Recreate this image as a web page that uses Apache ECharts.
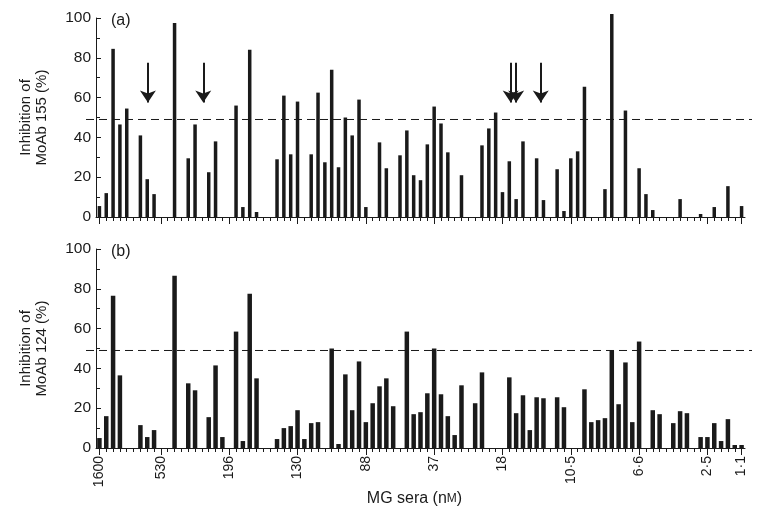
<!DOCTYPE html>
<html lang="en">
<head>
<meta charset="UTF-8">
<title>Inhibition of MoAb binding by MG sera</title>
<script src="https://cdn.jsdelivr.net/npm/echarts@6/dist/echarts.min.js"></script>
<style>
  html, body { margin: 0; padding: 0; background: #fff; }
  #chart { width: 780px; height: 521px; }
</style>
</head>
<body>
<div id="chart"></div>
<script>
// sera are ordered by concentration; one slot per serum
var slotCount = 95;

// panel (a): MoAb 155
var aSlots = [0, 1, 2, 3, 4, 6, 7, 8, 11, 13, 14, 16, 17, 20, 21, 22, 23, 26, 27, 28, 29, 31, 32, 33, 34, 35, 36, 37, 38, 39,
  41, 42, 44, 45, 46, 47, 48, 49, 50, 51, 53, 56, 57, 58, 59, 60, 61, 62, 64, 65, 67, 68, 69, 70, 71, 74, 75, 77, 79, 80,
  81, 85, 88, 90, 92, 94];
var aValues = [5.5, 12, 84.5, 46.5, 54.5, 41, 19, 11.5, 97.5, 29.5, 46.5, 22.5, 38, 56, 5, 84, 2.5, 29, 61, 31.5, 58, 31.5, 62.5, 27.5, 74, 25, 50, 41, 59, 5,
  37.5, 24.5, 31, 43.5, 21, 18.5, 36.5, 55.5, 47, 32.5, 21, 36, 44.5, 52.5, 12.5, 28, 9, 38, 29.5, 8.5, 24, 3, 29.5, 33, 65.5, 14, 102, 53.5, 24.5, 11.5,
  3.5, 9, 1.5, 5, 15.5, 5.5];

// panel (b): MoAb 124
var bSlots = [0, 1, 2, 3, 6, 7, 8, 11, 13, 14, 16, 17, 18, 20, 21, 22, 23, 26, 27, 28, 29, 30, 31, 32, 34, 35, 36, 37, 38, 39,
  40, 41, 42, 43, 45, 46, 47, 48, 49, 50, 51, 52, 53, 55, 56, 60, 61, 62, 63, 64, 65, 67, 68, 71, 72, 73, 74, 75, 76, 77,
  78, 79, 81, 82, 84, 85, 86, 88, 89, 90, 91, 92, 93, 94];
var bValues = [5, 16, 76.5, 36.5, 11.5, 5.5, 9, 86.5, 32.5, 29, 15.5, 41.5, 5.5, 58.5, 3.5, 77.5, 35, 4.5, 10, 11, 19, 4.5, 12.5, 13, 50, 2, 37, 19, 43.5, 13,
  22.5, 31, 35, 21, 58.5, 17, 18, 27.5, 50, 27, 16, 6.5, 31.5, 22.5, 38, 35.5, 17.5, 26.5, 9, 25.5, 25, 25.5, 20.5, 29.5, 13, 14, 15, 49, 22, 43,
  13, 53.5, 19, 17, 12.5, 18.5, 17.5, 5.5, 5.5, 12.5, 3.5, 14.5, 1.5, 1.5];

// concentration labels (nM) under selected slots
var tickSlots = [0, 9, 19, 29, 39, 49, 59, 69, 79, 89, 94];
var tickLabels = ['1600', '530', '196', '130', '88', '37', '18', '10·5', '6·6', '2·5', '1·1'];

var threshold = 49;
// arrows in panel (a)
var arrowSlots = [7.1, 15.2, 60.2, 61.0, 64.6];
var arrowTop = 77.5;
var arrowEnd = 57.5;

var yTicks = [0, 100, 20];

var font = "'Liberation Sans', Arial, sans-serif";
var ink = '#1a1a1a';

var cats = [];
for (var i = 0; i < slotCount; i++) cats.push(String(i));

function toBars(slots, vals) {
  var d = [];
  for (var i = 0; i < slotCount; i++) d.push('-');
  slots.forEach(function (s, k) { d[s] = vals[k]; });
  return d;
}

var labelMap = {};
tickSlots.forEach(function (s, k) { labelMap[s] = tickLabels[k]; });
function isMajor(idx) { return labelMap.hasOwnProperty(idx); }

// plot area and the slightly wider area used by the dashed line
var left = 96, right = 35, width = 780 - left - right;
var left2 = 86, right2 = 28;
var band = width / slotCount;
var annMin = -0.5 - (left - left2) / band;
var annMax = slotCount - 0.5 + (right - right2) / band;

var panels = [{ top: 18, height: 199 }, { top: 249, height: 199 }];

var grids = [], xAxes = [], yAxes = [];
panels.forEach(function (p) {
  grids.push({ left: left, right: right, top: p.top, height: p.height, outerBoundsMode: 'none' });
  grids.push({ left: left2, right: right2, top: p.top, height: p.height, outerBoundsMode: 'none' });
});

function minorX(gridIndex) {
  return {
    type: 'category', gridIndex: gridIndex, position: 'bottom', data: cats, boundaryGap: true,
    axisLine: { show: true, lineStyle: { color: ink, width: 1 } },
    axisTick: { show: true, interval: 0, alignWithLabel: true, length: 4, lineStyle: { color: ink } },
    axisLabel: { show: false }, splitLine: { show: false }
  };
}
function majorX(gridIndex, withLabels) {
  var ax = {
    type: 'category', gridIndex: gridIndex, position: 'bottom', data: cats, boundaryGap: true,
    axisLine: { show: false },
    axisTick: { show: true, interval: function (idx) { return isMajor(idx); }, alignWithLabel: true, length: 7, lineStyle: { color: ink } },
    axisLabel: { show: false }, splitLine: { show: false }
  };
  if (withLabels) {
    ax.axisLabel = {
      show: true, interval: function (idx) { return isMajor(idx); }, rotate: 90, margin: 8,
      formatter: function (v, idx) { return labelMap[idx] || ''; },
      fontFamily: font, fontSize: 14, color: ink
    };
    ax.name = 'MG sera (n{sc|M})';
    ax.nameLocation = 'middle';
    ax.nameGap = 39;
    ax.nameTextStyle = { fontFamily: font, fontSize: 16, color: ink, padding: [0, 12, 0, 0], rich: { sc: { fontFamily: font, fontSize: 12, color: ink } } };
  }
  return ax;
}
function hiddenX(gridIndex) {
  return { type: 'value', gridIndex: gridIndex, min: annMin, max: annMax, show: false };
}

// grid 0: panel a, grid 1: panel a annotations, grid 2: panel b, grid 3: panel b annotations
xAxes.push(minorX(0), majorX(0, false), hiddenX(1), minorX(2), majorX(2, true), hiddenX(3));

function mainY(gridIndex, name) {
  return {
    type: 'value', gridIndex: gridIndex, min: yTicks[0], max: yTicks[1], interval: yTicks[2],
    name: name, nameLocation: 'middle', nameGap: 46, nameRotate: 90,
    nameTextStyle: { fontFamily: font, fontSize: 15, color: ink, lineHeight: 16 },
    axisLine: { show: true, lineStyle: { color: ink, width: 1 } },
    axisTick: { show: true, inside: true, length: 5, lineStyle: { color: ink } },
    minorTick: { show: true, splitNumber: 2, length: 4, lineStyle: { color: ink } },
    axisLabel: { fontFamily: font, fontSize: 15.5, color: ink, margin: 5 },
    splitLine: { show: false }
  };
}
function hiddenY(gridIndex) {
  return { type: 'value', gridIndex: gridIndex, min: yTicks[0], max: yTicks[1], show: false };
}
yAxes.push(mainY(0, 'Inhibition of\nMoAb 155 (%)'), hiddenY(1), mainY(2, 'Inhibition of\nMoAb 124 (%)'), hiddenY(3));

function thresholdSeries(xi, yi, extra) {
  var s = {
    type: 'line', xAxisIndex: xi, yAxisIndex: yi, silent: true, symbol: 'none',
    data: [[annMin, threshold], [annMax, threshold]],
    lineStyle: { color: ink, width: 1, type: [8, 5] },
    animation: false
  };
  if (extra) s.markLine = extra;
  return s;
}

var arrows = {
  silent: true, animation: false,
  symbol: ['none', 'arrow'], symbolSize: 12,
  label: { show: false },
  itemStyle: { color: ink },
  lineStyle: { color: ink, width: 2, type: 'solid' },
  data: arrowSlots.map(function (s) { return [{ coord: [s, arrowTop] }, { coord: [s, arrowEnd] }]; })
};

var myChart = echarts.init(document.getElementById('chart'), null, { renderer: 'canvas' });
var option = {
  backgroundColor: '#fff',
  animation: false,
  textStyle: { fontFamily: font },
  title: [
    { text: '(a)', left: 106, top: 8, textStyle: { fontFamily: font, fontSize: 16, fontWeight: 'normal', color: ink } },
    { text: '(b)', left: 106, top: 239, textStyle: { fontFamily: font, fontSize: 16, fontWeight: 'normal', color: ink } }
  ],
  grid: grids,
  xAxis: xAxes,
  yAxis: yAxes,
  series: [
    { type: 'bar', xAxisIndex: 0, yAxisIndex: 0, data: toBars(aSlots, aValues), barWidth: 3.5, clip: false,
      itemStyle: { color: ink } },
    { type: 'bar', xAxisIndex: 3, yAxisIndex: 2, data: toBars(bSlots, bValues), barWidth: 4.5, clip: false,
      itemStyle: { color: ink } },
    thresholdSeries(2, 1, arrows),
    thresholdSeries(5, 3, null)
  ]
};
myChart.setOption(option);
</script>
</body>
</html>
